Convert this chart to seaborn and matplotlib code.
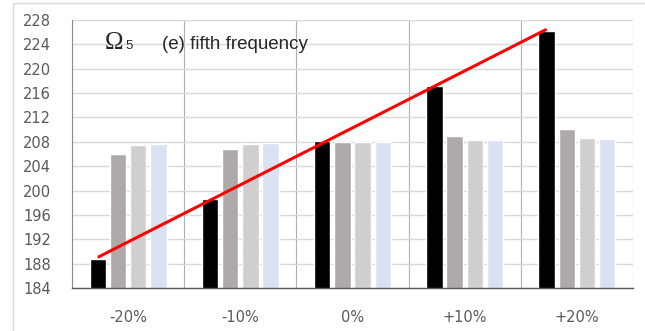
import numpy as np
import pandas as pd
import seaborn as sns
import matplotlib.pyplot as plt
from matplotlib.patches import Rectangle

# categories and series values
categories = ["-20%", "-10%", "0%", "+10%", "+20%"]
series_names = ["s1", "s2", "s3", "s4"]
s1 = [188.7, 198.6, 208.1, 217.2, 226.2]
s2 = [206.0, 206.9, 208.0, 209.0, 210.1]
s3 = [207.4, 207.7, 208.0, 208.3, 208.6]
s4 = [207.6, 207.8, 207.95, 208.3, 208.5]
y_ticks = list(range(184, 229, 4))

colors = ["#000000", "#aeaaaa", "#d0cece", "#d9e1f2"]

df = pd.DataFrame({
    "shift": categories * 4,
    "series": np.repeat(series_names, len(categories)),
    "value": s1 + s2 + s3 + s4,
})

sns.set_style("white")
fig = plt.figure(figsize=(6.45, 3.31), dpi=100)
ax = fig.add_axes([72 / 645, 43 / 331, 561 / 645, 268 / 331])

sns.barplot(data=df, x="shift", y="value", hue="series", order=categories,
            hue_order=series_names, palette=colors, width=0.72, gap=0.19,
            saturation=1, legend=False, ax=ax, zorder=2)

# linear trend line over the first series, drawn at the black bar centres
xpos = np.arange(len(categories)) - 0.27
fit = np.polyfit(np.arange(len(categories)), s1, 1)
ax.plot(xpos, np.polyval(fit, np.arange(len(categories))), color="#ff0000",
        linewidth=2.2, zorder=3, solid_capstyle="butt")

ax.set_ylim(184, 228)
ax.set_xlim(-0.5, len(categories) - 0.5)
ax.set_yticks(y_ticks)
ax.set_xticks(np.arange(len(categories)), categories)
ax.set_xticks(np.arange(len(categories) + 1) - 0.5, minor=True)
ax.set_xlabel("")
ax.set_ylabel("")

ax.yaxis.grid(True, color="#d9d9d9", linewidth=1.0, zorder=0)
ax.xaxis.grid(True, which="minor", color="#b0b0b0", linewidth=0.8, zorder=0)
ax.xaxis.grid(False, which="major")
ax.set_axisbelow(True)

ax.tick_params(axis="y", length=0, pad=15, labelsize=10.5, labelcolor="#595959")
ax.tick_params(axis="x", which="both", length=0, pad=16, labelsize=10.5,
               labelcolor="#595959")

for side in ["top", "right"]:
    ax.spines[side].set_visible(False)
ax.spines["left"].set_color("#8c8c8c")
ax.spines["left"].set_linewidth(0.8)
ax.spines["bottom"].set_color("#595959")
ax.spines["bottom"].set_linewidth(1.0)

# title text inside the plot
ax.text(0.059, 0.89, "\u03a9", transform=ax.transAxes, fontsize=18,
        family="Liberation Serif", va="baseline", ha="left")
ax.text(0.095, 0.89, "5", transform=ax.transAxes, fontsize=9.5,
        family="Liberation Sans", va="baseline", ha="left")
ax.text(0.161, 0.89, "(e) fifth frequency", transform=ax.transAxes,
        fontsize=13.5, family="Liberation Sans", va="baseline", ha="left")

# outer chart frame
fig.patches.append(Rectangle((12.5 / 645, -0.1), 1.0, (331 - 2.5) / 331 + 0.1,
                             transform=fig.transFigure, fill=False,
                             edgecolor="#d9d9d9", linewidth=1.0))

fig.savefig("out.png", dpi=100)
